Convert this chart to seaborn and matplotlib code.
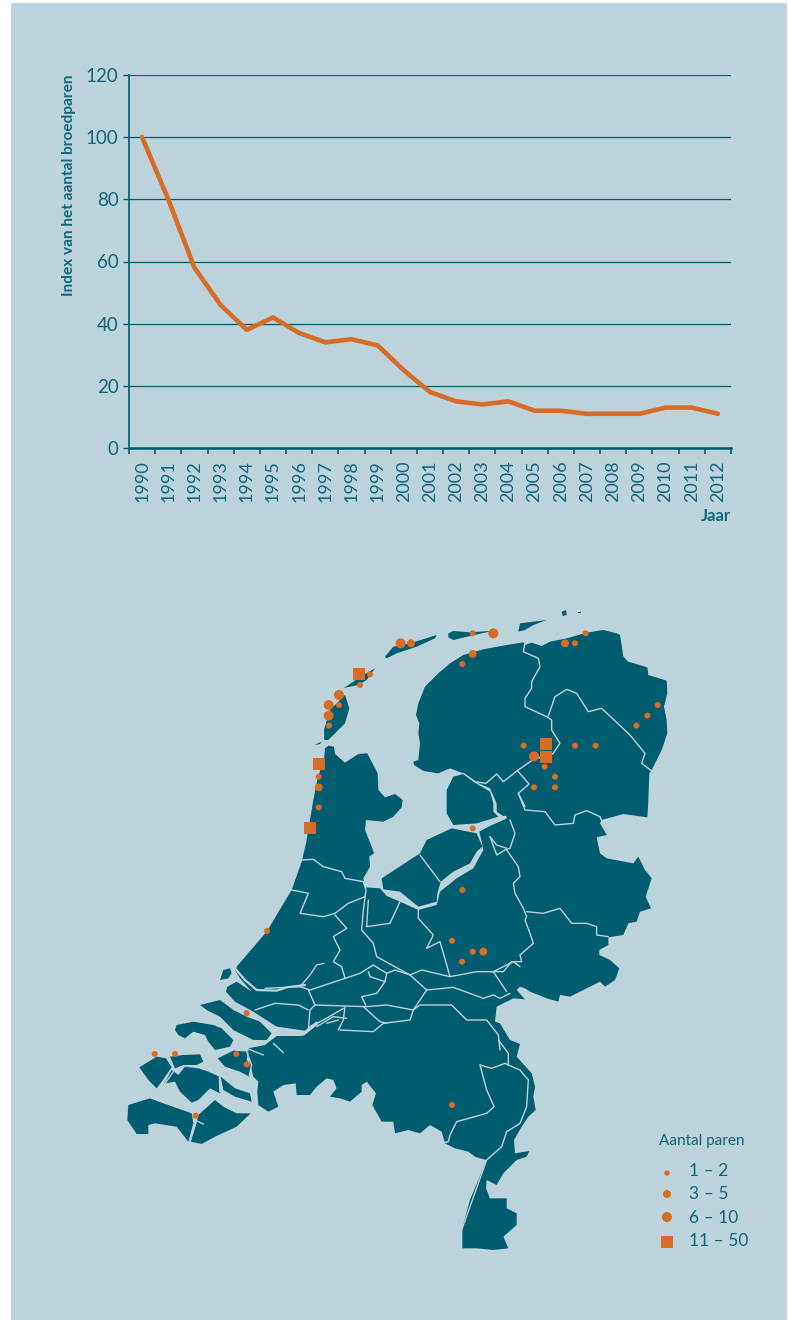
import matplotlib
matplotlib.use("Agg")
import matplotlib.pyplot as plt
import pandas as pd
import seaborn as sns

BG = "#bcd3db"
LAND = "#005c6f"
ORANGE = "#d96c27"
INK = "#12687a"

# --- grafiek ---
years = list(range(1990, 2013))
index_values = [100, 80, 58, 46, 38, 42, 37, 34, 35, 33, 25, 18, 15, 14, 15, 12, 12, 11, 11, 11, 13, 13, 11]
y_ticks = [0, 20, 40, 60, 80, 100, 120]

N_CROP = (230, 600)
NE_CROP = (410, 610)
E_CROP = (490, 790)
LB_CROP = (340, 1040)
SW_CROP = (120, 960)
MID_CROP = (220, 850)

coast_mid = [(50, 350), (140, 245), (215, 120), (245, 35)]
coast_n = [(228, 730), (250, 600), (262, 540), (283, 470), (285, 445), (295, 437), (312, 440), (315, 462),
           (345, 488), (385, 462), (412, 460), (443, 520), (445, 570), (465, 592), (495, 582), (518, 600),
           (515, 622), (490, 650), (460, 665), (408, 660), (405, 690), (425, 740), (432, 760), (418, 770),
           (420, 800), (400, 835), (405, 862), (450, 865), (470, 888), (510, 905), (565, 930), (620, 915),
           (630, 875), (680, 835), (730, 805), (760, 750), (755, 725), (748, 695), (790, 672), (830, 655),
           (800, 635), (800, 610), (780, 565), (735, 545), (700, 520)]
coast_ne = [(160, 490), (120, 475), (85, 490), (40, 483), (12, 465), (10, 455), (25, 450), (30, 400), (25, 370),
            (28, 340), (18, 315), (25, 280), (35, 255), (45, 230), (85, 190), (120, 160), (160, 135), (220, 118),
            (290, 105), (340, 97), (345, 105), (365, 98), (395, 108), (420, 95), (470, 85), (530, 68), (580, 60),
            (620, 70), (630, 75), (640, 140), (655, 155), (712, 172), (715, 195), (770, 212), (772, 250),
            (762, 290), (770, 330), (772, 370), (755, 420), (725, 480), (718, 490), (715, 570)]
coast_e = [(472, 82), (400, 72), (335, 90), (330, 100), (350, 135), (320, 142), (330, 190), (350, 205), (430, 220),
           (445, 200), (465, 240), (485, 265), (467, 320), (483, 355), (450, 365), (440, 395), (415, 400),
           (400, 435), (355, 442), (355, 465), (328, 480), (328, 495), (360, 510), (388, 535), (375, 570),
           (345, 590), (330, 575), (240, 620), (210, 615), (205, 635), (170, 625), (120, 605), (105, 595),
           (90, 590), (80, 600), (105, 628), (70, 625)]
coast_mid_e = [(830, 470), (825, 515), (840, 520)]
coast_lb = [(510, 0), (540, 12), (530, 50), (575, 100), (585, 140), (580, 170), (587, 210), (565, 230), (545, 260),
            (522, 300), (525, 340), (568, 333), (560, 350), (530, 360), (490, 400), (470, 435), (440, 420),
            (438, 445), (450, 475), (500, 475), (500, 505), (530, 520), (530, 555), (490, 590), (505, 625),
            (460, 630), (410, 625), (365, 625), (365, 570), (390, 480), (440, 360), (420, 355), (405, 350),
            (385, 335), (345, 325), (315, 310), (305, 275), (270, 255), (240, 280), (205, 270), (165, 280),
            (160, 245), (125, 245), (97, 195), (108, 160), (80, 125), (65, 135), (65, 155), (30, 185), (0, 175)]
coast_sw = [(660, 415), (630, 410), (650, 385), (640, 360), (620, 355), (590, 380), (570, 405), (530, 405),
            (527, 370), (490, 375), (460, 395), (475, 440), (445, 455), (415, 435), (412, 395), (415, 365),
            (400, 350), (395, 330), (385, 290), (385, 265), (435, 255), (470, 228), (545, 228), (560, 215),
            (555, 212), (470, 200), (400, 155), (345, 125), (318, 95), (322, 80), (350, 65), (395, 95), (360, 55),
            (345, 30), (351, 21)]

shapes_n = [
    [(650, 570), (670, 530), (700, 522), (730, 545), (780, 575), (790, 610), (790, 635), (805, 650), (740, 670), (670, 675), (650, 640)],
    [(455, 835), (570, 760), (590, 720), (665, 685), (740, 700), (757, 740), (740, 755), (720, 790), (670, 815), (632, 845), (622, 880), (620, 905), (565, 920), (510, 875), (460, 868)],
    [(283, 420), (282, 390), (300, 330), (345, 285), (358, 325), (345, 370), (310, 405), (295, 420)],
    [(253, 435), (275, 425), (270, 432)],
    [(340, 265), (400, 225), (435, 205), (410, 240), (385, 255), (350, 262)],
    [(465, 170), (490, 140), (540, 130), (620, 105), (615, 115), (560, 140), (500, 160), (470, 175)],
    [(655, 100), (670, 93), (720, 97), (790, 92), (720, 108), (670, 120), (655, 112)],
    [(865, 95), (870, 70), (950, 60), (910, 75), (885, 90)],
    [(995, 35), (1008, 30), (1010, 45), (998, 48)],
    [(1045, 36), (1052, 36), (1052, 39), (1045, 39)],
]
shapes_sw = [
    [(300, 60), (310, 30), (330, 25), (335, 40), (325, 55)],
    [(240, 135), (300, 120), (340, 150), (380, 170), (420, 185), (455, 220), (440, 240), (400, 240), (340, 210), (300, 170), (260, 150)],
    [(170, 195), (220, 185), (280, 195), (305, 205), (340, 240), (330, 260), (285, 270), (265, 245), (255, 225), (220, 215), (195, 235), (175, 225), (165, 210)],
    [(293, 295), (340, 272), (385, 275), (380, 300), (395, 320), (388, 350), (360, 335), (315, 320)],
    [(58, 322), (110, 290), (138, 295), (155, 322), (125, 365), (110, 385), (85, 360)],
    [(150, 290), (190, 285), (240, 283), (250, 305), (230, 315), (190, 315), (165, 325)],
    [(125, 385), (155, 330), (175, 345), (195, 320), (235, 325), (265, 335), (298, 350), (300, 400), (270, 385), (235, 420), (215, 428), (180, 395), (165, 365), (135, 370)],
    [(302, 350), (345, 385), (390, 400), (395, 425), (345, 410), (310, 390)],
    [(25, 435), (90, 415), (130, 430), (215, 460), (220, 490), (205, 545), (170, 500), (105, 490), (85, 495), (85, 522), (50, 522), (22, 480)],
    [(235, 465), (285, 420), (310, 440), (350, 460), (392, 460), (350, 500), (285, 530), (245, 552), (212, 545), (228, 495)],
]

rivers_ne = [
    [(345, 98), (340, 125), (385, 145), (390, 170), (365, 215), (365, 235), (345, 265), (345, 290), (410, 320), (425, 330), (425, 360), (450, 400), (428, 432), (370, 448), (322, 482), (280, 515), (260, 492), (228, 520), (195, 515), (160, 490)],
    [(415, 318), (435, 260), (470, 238), (500, 250), (535, 305), (575, 295), (660, 375), (705, 430), (695, 460), (725, 483)],
    [(322, 482), (357, 522), (325, 550), (345, 590)],
]
rivers_e = [
    [(85, 10), (105, 60), (165, 65), (195, 105), (250, 100), (255, 75), (290, 62), (330, 80), (335, 92)],
    [(60, 90), (75, 130), (60, 175), (45, 180), (20, 195), (0, 140)],
    [(50, 180), (85, 230), (90, 260), (70, 280), (75, 310), (100, 355), (110, 380), (105, 390), (120, 430), (130, 460), (90, 495), (95, 515), (65, 515), (40, 545), (0, 545)],
    [(110, 365), (160, 370), (210, 355), (245, 400), (290, 400), (320, 410), (320, 435), (355, 440)],
    [(0, 140), (20, 165), (50, 175)],
]
rivers_mid = [
    [(245, 30), (280, 28), (310, 50), (365, 65), (375, 85), (430, 95), (438, 120), (430, 180), (425, 240), (460, 280), (470, 320), (570, 375), (620, 420), (580, 480), (570, 510), (490, 520), (460, 545), (360, 540)],
    [(215, 120), (265, 130), (240, 190), (310, 200), (345, 190), (385, 160), (435, 140)],
    [(345, 195), (380, 235), (340, 260), (360, 300), (340, 335), (365, 350), (375, 385)],
    [(445, 150), (440, 230), (510, 220), (540, 155)],
    [(595, 180), (595, 205), (640, 255), (620, 295), (660, 275), (690, 380), (605, 360), (570, 375)],
    [(690, 380), (770, 365), (820, 365), (880, 335), (900, 350)],
    [(820, 365), (860, 425)],
    [(620, 420), (700, 412), (790, 445), (820, 435), (840, 445), (870, 430)],
    [(135, 415), (240, 410), (270, 420), (375, 385), (420, 370), (460, 345), (500, 370), (525, 360), (570, 375)],
    [(445, 365), (450, 380), (495, 395), (470, 430), (425, 440), (437, 465)],
    [(495, 395), (500, 370)],
    [(240, 410), (270, 375), (290, 345), (312, 340)],
    [(265, 420), (285, 465), (270, 480), (265, 540)],
    [(105, 480), (165, 460), (235, 465), (265, 480)],
    [(285, 465), (375, 468), (440, 470), (500, 465), (580, 480)],
    [(430, 470), (480, 515), (500, 520)],
    [(375, 470), (370, 510), (355, 540)],
    [(270, 530), (310, 510), (345, 490), (370, 475)],
    [(290, 530), (340, 500), (380, 505)],
    [(320, 520), (355, 510)],
    [(580, 480), (600, 465), (630, 465), (695, 465), (740, 510), (800, 510), (835, 555), (840, 600)],
    [(600, 15), (660, 95)],
]
rivers_lb = [
    [(475, 0), (505, 40), (505, 75), (540, 90), (565, 120), (560, 200), (540, 250), (500, 275), (485, 320), (440, 360), (365, 570), (365, 625)],
    [(420, 75), (455, 85), (495, 70), (505, 75)],
    [(420, 75), (440, 150), (462, 200), (440, 220), (350, 245), (330, 285), (325, 305), (310, 308)],
]
rivers_sw = [
    [(380, 275), (395, 315), (388, 345), (402, 360)],
    [(405, 395), (410, 435)],
    [(298, 350), (300, 395)],
    [(160, 335), (125, 385)],
    [(225, 470), (225, 495), (210, 545)],
    [(225, 480), (250, 492)],
    [(380, 265), (430, 285)],
    [(460, 250), (490, 278)],
]
# brede wateren
channels_n = [(745, 685), (790, 668), (825, 652)]
channels_sw = [(345, 25), (375, 60), (410, 90), (470, 92), (500, 82), (555, 75)]
channels_delta = [(470, 205), (550, 222), (590, 190)]

# --- broedlocaties ---
sites_n = {
    "11 – 50": [(387, 222), (267, 491), (240, 684), (948, 432), (948, 470)],
    "6 – 10": [(512, 130), (790, 100), (327, 285), (296, 315), (296, 347), (912, 469)],
    "3 – 5": [(543, 130), (728, 162), (266, 562), (1005, 130)],
    "1 – 2": [(420, 223), (390, 255), (327, 315), (297, 377), (266, 530), (266, 622), (728, 100), (697, 192),
              (1035, 130), (1067, 100), (1283, 315), (1252, 347), (1219, 377), (881, 437), (1035, 437),
              (1097, 437), (944, 500), (975, 530), (912, 562), (975, 562), (728, 685), (697, 870)],
}
sites_s = {
    "3 – 5": [(1090, 155)],
    "1 – 2": [(441, 93), (996, 122), (1058, 155), (1026, 185), (380, 339), (104, 462), (165, 462), (349, 462),
              (380, 493), (227, 647), (996, 615)],
}
S_CROP = (120, 900)
classes = ["1 – 2", "3 – 5", "6 – 10", "11 – 50"]


def crop(origin, points):
    return [(origin[0] + x / 3, origin[1] + y / 3) for x, y in points]


sns.set_style("white")
plt.rcParams["font.family"] = ["Lato", "DejaVu Sans"]

fig = plt.figure(figsize=(7.89, 13.2), dpi=100, facecolor="white")
W, H = 789, 1320

# achtergrondvlak + kaart, in pixels van de figuur
map_ax = fig.add_axes([0, 0, 1, 1])
map_ax.add_patch(plt.Rectangle((11, 3), 776, 1317, facecolor=BG, edgecolor="none"))

outline = (crop(MID_CROP, coast_mid) + crop(N_CROP, coast_n) + crop(NE_CROP, coast_ne) + crop(E_CROP, coast_e)
           + crop(MID_CROP, coast_mid_e) + crop(LB_CROP, coast_lb) + crop(SW_CROP, coast_sw))
map_ax.fill(*zip(*outline), color=LAND, lw=0)
for shape in shapes_n:
    map_ax.fill(*zip(*crop(N_CROP, shape)), color=LAND, lw=0)
for shape in shapes_sw:
    map_ax.fill(*zip(*crop(SW_CROP, shape)), color=LAND, lw=0)

map_ax.plot(*zip(*crop(N_CROP, channels_n)), color=BG, lw=2.4)
map_ax.plot(*zip(*crop(SW_CROP, channels_sw)), color=BG, lw=1.6)
map_ax.plot(*zip(*crop(SW_CROP, channels_delta)), color=BG, lw=2.4)
for origin, group in [(NE_CROP, rivers_ne), (E_CROP, rivers_e), (MID_CROP, rivers_mid), (LB_CROP, rivers_lb), (SW_CROP, rivers_sw)]:
    for line in group:
        map_ax.plot(*zip(*crop(origin, line)), color=BG, lw=1.0, solid_joinstyle="round")

rows = []
for klass, pts in sites_n.items():
    rows += [{"x": x, "y": y, "klasse": klass} for x, y in crop(N_CROP, pts)]
for klass, pts in sites_s.items():
    rows += [{"x": x, "y": y, "klasse": klass} for x, y in crop(S_CROP, pts)]
sites_df = pd.DataFrame(rows)

marker_map = {"1 – 2": "o", "3 – 5": "o", "6 – 10": "o", "11 – 50": "s"}
size_map = {"1 – 2": 19, "3 – 5": 33, "6 – 10": 52, "11 – 50": 75}
sns.scatterplot(data=sites_df, x="x", y="y", style="klasse", size="klasse", markers=marker_map, sizes=size_map,
                color=ORANGE, linewidth=0, legend=False, zorder=5, ax=map_ax)

# legenda
map_ax.text(659, 1141, "Aantal paren", color=INK, fontsize=11, va="center", ha="left")
legend_df = pd.DataFrame({"x": [667] * 4, "y": [1173, 1194, 1217, 1242], "klasse": classes})
sns.scatterplot(data=legend_df, x="x", y="y", style="klasse", size="klasse", markers=marker_map,
                sizes={"1 – 2": 15, "3 – 5": 33, "6 – 10": 52, "11 – 50": 75}, color=ORANGE, linewidth=0,
                legend=False, zorder=5, ax=map_ax)
for klass, yy in zip(classes, [1171, 1194, 1218, 1241]):
    map_ax.text(689, yy, klass, color=INK, fontsize=12.5, va="center", ha="left")
map_ax.set_xlim(0, W)
map_ax.set_ylim(H, 0)
map_ax.axis("off")

# lijngrafiek
ax = fig.add_axes([129 / W, 1 - 448 / H, (731 - 129) / W, (448 - 75) / H])
ax.patch.set_alpha(0)
sns.lineplot(x=years, y=index_values, color=ORANGE, lw=3.3, ax=ax, zorder=4)
ax.set_xlim(1989.5, 2012.5)
ax.set_ylim(0, 120)
ax.set_yticks(y_ticks)
ax.set_xticks(years)
ax.set_xticks([y - 0.5 for y in years] + [2012.5], minor=True)
ax.set_xticklabels(years, rotation=90)
ax.tick_params(axis="x", which="major", length=0, pad=9, labelsize=13, labelcolor=INK)
ax.tick_params(axis="x", which="minor", length=4.5, width=1.2, color=LAND, bottom=True)
ax.tick_params(axis="y", length=4.5, width=1.0, color=LAND, left=True, pad=3, labelsize=13.5, labelcolor=INK)
ax.grid(axis="y", color=LAND, lw=0.9)
ax.set_axisbelow(True)
for side in ["top", "right"]:
    ax.spines[side].set_visible(False)
ax.spines["left"].set_color(LAND)
ax.spines["left"].set_linewidth(1.2)
ax.spines["bottom"].set_color(LAND)
ax.spines["bottom"].set_linewidth(1.8)

map_ax.text(69, 185, "Index van het aantal broedparen", rotation=90, color=INK, fontsize=11.1, fontweight="bold",
            va="center", ha="center")
map_ax.text(731, 516, "Jaar", color=INK, fontsize=12, fontweight="bold", va="center", ha="right")

fig.savefig("out.png", dpi=100)
